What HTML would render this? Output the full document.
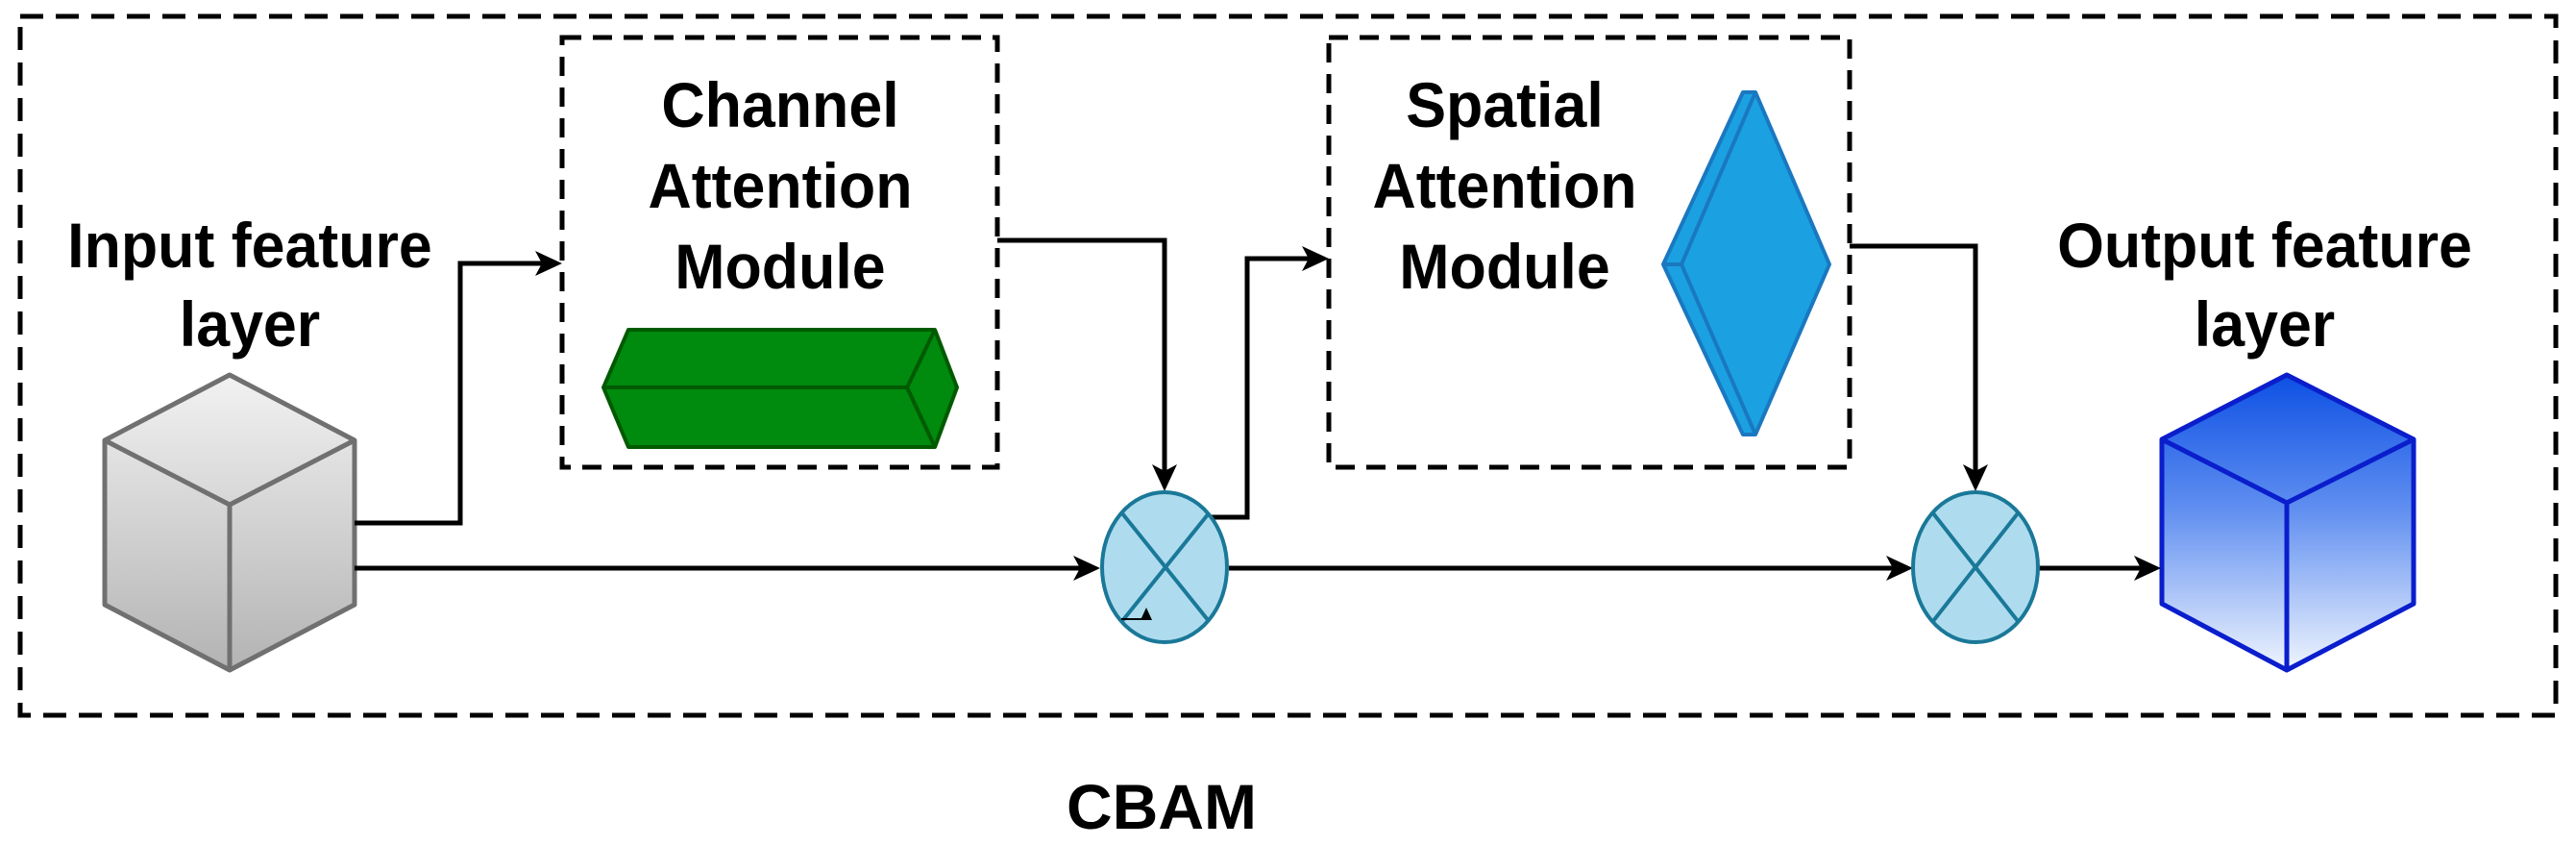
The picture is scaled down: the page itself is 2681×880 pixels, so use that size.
<!DOCTYPE html>
<html><head><meta charset="utf-8"><style>
html,body{margin:0;padding:0;background:#fff;}
svg{display:block;}
text{font-family:"Liberation Sans",sans-serif;font-weight:bold;fill:#000;}
</style></head><body>
<svg width="2681" height="880" viewBox="0 0 2681 880" xmlns="http://www.w3.org/2000/svg">
<defs>
<linearGradient id="gb" gradientUnits="userSpaceOnUse" x1="0" y1="390" x2="0" y2="697">
<stop offset="0" stop-color="#0d50e4"/><stop offset="0.45" stop-color="#5f8ef0"/><stop offset="1" stop-color="#f0f5fe"/>
</linearGradient>
<linearGradient id="gg" gradientUnits="userSpaceOnUse" x1="0" y1="390" x2="0" y2="697">
<stop offset="0" stop-color="#f2f2f2"/><stop offset="1" stop-color="#b3b3b3"/>
</linearGradient>
<marker id="ah" markerWidth="10" markerHeight="10" refX="9" refY="5" orient="auto" markerUnits="userSpaceOnUse" viewBox="0 0 10 10">
</marker>
</defs>

<!-- outer dashed box -->
<rect x="21" y="17" width="2639" height="727" fill="none" stroke="#000" stroke-width="5" stroke-dasharray="24 13"/>
<!-- channel box -->
<rect x="585" y="39" width="453" height="447" fill="none" stroke="#000" stroke-width="5" stroke-dasharray="20 12"/>
<!-- spatial box -->
<rect x="1383" y="39" width="542" height="447" fill="none" stroke="#000" stroke-width="5" stroke-dasharray="20 12"/>

<!-- texts -->
<g font-size="66" text-anchor="middle">
<text x="812" y="132" transform="translate(812 0) scale(0.95 1) translate(-812 0)">Channel</text>
<text x="812" y="216" transform="translate(812 0) scale(0.95 1) translate(-812 0)">Attention</text>
<text x="812" y="300" transform="translate(812 0) scale(0.95 1) translate(-812 0)">Module</text>
<text x="1566" y="132" transform="translate(1566 0) scale(0.95 1) translate(-1566 0)">Spatial</text>
<text x="1566" y="216" transform="translate(1566 0) scale(0.95 1) translate(-1566 0)">Attention</text>
<text x="1566" y="300" transform="translate(1566 0) scale(0.95 1) translate(-1566 0)">Module</text>
<text x="260" y="278" transform="translate(260 0) scale(0.95 1) translate(-260 0)">Input feature</text>
<text x="260" y="360" transform="translate(260 0) scale(0.95 1) translate(-260 0)">layer</text>
<text x="2357" y="278" transform="translate(2357 0) scale(0.95 1) translate(-2357 0)">Output feature</text>
<text x="2357" y="360" transform="translate(2357 0) scale(0.95 1) translate(-2357 0)">layer</text>
<text x="1209" y="862">CBAM</text>
</g>

<!-- input cube -->
<g stroke="#707070" stroke-width="5" stroke-linejoin="round" fill="url(#gg)">
<polygon points="239,390 369,458 369,629 239,697 109,629 109,458"/>
<polyline points="109,458 239,525 369,458" fill="none"/>
<line x1="239" y1="525" x2="239" y2="697"/>
</g>

<!-- green box -->
<g stroke="#005a00" stroke-width="4" stroke-linejoin="round" fill="#008a0e">
<polygon points="628,403 654,343 973,343 996,403 973,465 654,465"/>
<line x1="628" y1="403" x2="944" y2="403"/>
<polyline points="973,343 944,403 973,465" fill="none"/>
</g>

<!-- diamond -->
<g stroke="#1a78c0" stroke-width="4" stroke-linejoin="round" fill="#1ba1e2">
<polygon points="1814,96 1827,96 1904,275 1827,452 1814,452 1731,275"/>
<polyline points="1827,96 1750,275 1827,452" fill="none"/>
<line x1="1731" y1="275" x2="1750" y2="275"/>
</g>

<!-- output cube -->
<g stroke="#0a1ecc" stroke-width="5" stroke-linejoin="round" fill="url(#gb)">
<polygon points="2380,390 2512,457 2512,628 2380,697 2250,628 2250,457"/>
<polyline points="2250,457 2380,523 2512,457" fill="none"/>
<line x1="2380" y1="523" x2="2380" y2="697"/>
</g>

<!-- connectors -->
<g stroke="#000" stroke-width="5" fill="none">
<polyline points="369,544 479,544 479,274 565,274"/>
<line x1="369" y1="591" x2="1125" y2="591"/>
<polyline points="1038,250 1212,250 1212,490"/>
<polyline points="1256,538 1298,538 1298,269 1362,269"/>
<line x1="1279" y1="591" x2="1970" y2="591"/>
<polyline points="1925,256 2056,256 2056,490"/>
<line x1="2122" y1="591" x2="2228" y2="591"/>
</g>
<g fill="#000">
<polygon points="585,274 557,261 564,274 557,287"/>
<polygon points="1145,591 1117,578 1124,591 1117,604"/>
<polygon points="1212,511 1199,483 1212,490 1225,483"/>
<polygon points="1383,269 1355,256 1362,269 1355,282"/>
<polygon points="1991,591 1963,578 1970,591 1963,604"/>
<polygon points="2056,511 2043,483 2056,490 2069,483"/>
<polygon points="2249,591 2221,578 2228,591 2221,604"/>
</g>

<!-- multiply ellipses -->
<g stroke="#1a7898" stroke-width="4" fill="#aedcee">
<ellipse cx="1212" cy="590" rx="65" ry="78"/>
<line x1="1168" y1="534" x2="1258" y2="646"/>
<line x1="1258" y1="534" x2="1168" y2="646"/>
<ellipse cx="2056" cy="590" rx="65" ry="78"/>
<line x1="2012" y1="534" x2="2100" y2="646"/>
<line x1="2100" y1="534" x2="2012" y2="646"/>
</g>
<polyline points="1167,644 1190,644" stroke="#000" stroke-width="2" fill="none"/>
<polygon points="1187,645 1193,632 1199,645" fill="#000"/>
</svg>
</body></html>
